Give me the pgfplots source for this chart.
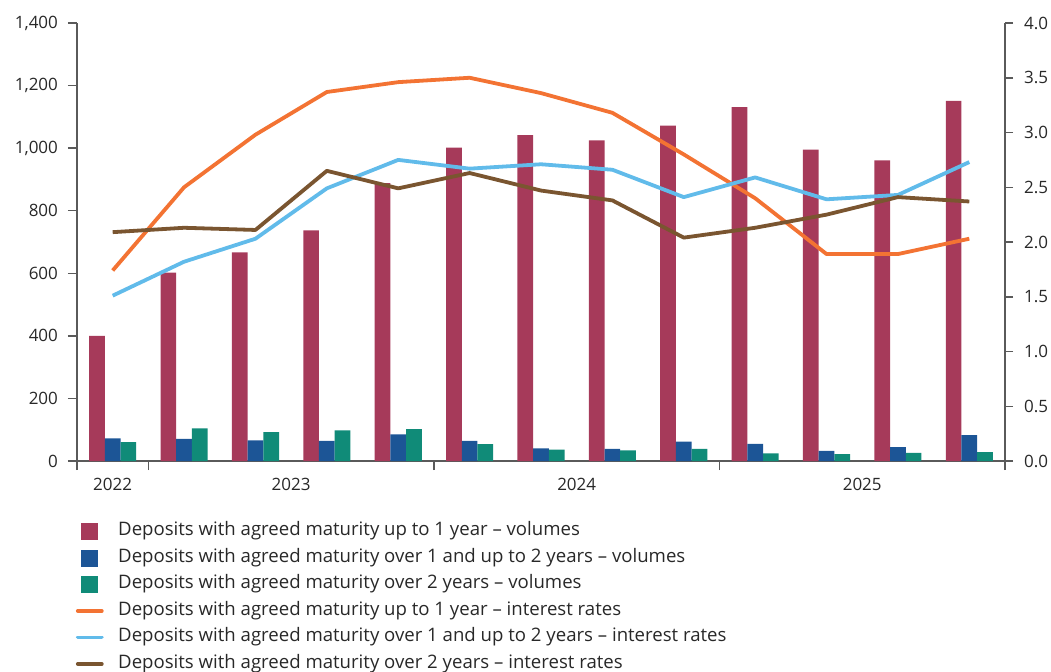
\documentclass[border=0pt]{standalone}
\usepackage{pgfplots}
\pgfplotsset{compat=1.18}
\usepackage{fontspec}
\setmainfont{Open Sans}
\definecolor{cRed}{RGB}{166,58,90}
\definecolor{cBlue}{RGB}{28,85,150}
\definecolor{cGreen}{RGB}{16,139,120}
\definecolor{cOrange}{RGB}{243,115,51}
\definecolor{cLight}{RGB}{97,187,234}
\definecolor{cBrown}{RGB}{122,85,48}
\definecolor{cText}{RGB}{40,40,40}
\definecolor{cAxis}{RGB}{90,90,90}

\pgfplotstableread{
x vol1 vol2 vol3 r1 r2 r3
0 400 72 60 1.74 1.51 2.09
1 602 71 104 2.50 1.82 2.13
2 667 66 92 2.98 2.03 2.11
3 737 64 98 3.37 2.49 2.65
4 888 85 102 3.46 2.75 2.49
5 1002 64 54 3.50 2.67 2.63
6 1042 40 36 3.36 2.71 2.47
7 1025 39 34 3.18 2.66 2.38
8 1072 62 39 2.80 2.41 2.04
9 1131 55 24 2.40 2.59 2.13
10 995 32 22 1.89 2.39 2.25
11 961 44 26 1.89 2.43 2.41
12 1151 83 28 2.03 2.73 2.37
}\datatable

\begin{document}
\begin{tikzpicture}
\path[use as bounding box] (-38.5pt,-105pt) rectangle (487pt,230.5pt);
\pgfplotsset{
  every axis/.append style={
    scale only axis, width=464pt, height=219pt,
    xmin=-0.5, xmax=12.5,
    font=\fontsize{8.5}{10.2}\selectfont,
    tick label style={text=cText, font=\fontsize{8.5}{10.2}\selectfont},
    axis line style={draw=cAxis, line width=0.75pt},
    tick style={draw=cAxis, line width=0.75pt},
    tick align=outside,
    /pgf/number format/assume math mode=true,
  },
}
\begin{axis}[
  ymin=0, ymax=1400,
  axis y line*=left, axis x line*=bottom,
  ybar=0pt, bar width=7.85pt,
  ytick={0,200,400,600,800,1000,1200,1400},
  major tick length=4.5pt,
  yticklabel style={xshift=-1.5pt},
  /pgf/number format/1000 sep={,},
  xtick={-0.5,0.5,4.5,8.5,12.5}, xticklabels={},
  extra x ticks={0,2.5,6.5,10.5},
  extra x tick labels={2022,2023,2024,2025},
  extra x tick style={major tick length=0pt, xticklabel style={yshift=-5pt}},
]
\addplot[draw=none, fill=cRed] table[x=x, y=vol1] {\datatable};
\addplot[draw=none, fill=cBlue] table[x=x, y=vol2] {\datatable};
\addplot[draw=none, fill=cGreen] table[x=x, y=vol3] {\datatable};
\end{axis}
\begin{axis}[
  ymin=0, ymax=4,
  axis y line*=right, axis x line=none,
  ytick={0,0.5,1,1.5,2,2.5,3,3.5,4},
  major tick length=4pt,
  yticklabel style={xshift=2pt, /pgf/number format/fixed, /pgf/number format/fixed zerofill, /pgf/number format/precision=1},
  legend style={at={(rel axis cs:0,0)}, xshift=-0.75pt, yshift=-30.5pt, anchor=north west,
    draw=none, fill=none, inner sep=0pt, row sep=4.25pt, column sep=7.25pt,
    font=\fontsize{9.3}{11}\selectfont, text=cText,
    nodes={inner sep=0pt, text height=6.75pt, text depth=2.25pt}},
  legend cell align=left,
]
\addlegendimage{legend image code/.code={\fill[cRed] (-4pt,-4pt) rectangle (4pt,4pt); \path[draw=none,fill=none] (-6.75pt,0) -- (6.75pt,0);}}
\addlegendentry{Deposits with agreed maturity up to 1 year – volumes}
\addlegendimage{legend image code/.code={\fill[cBlue] (-4pt,-4pt) rectangle (4pt,4pt); \path[draw=none,fill=none] (-6.75pt,0) -- (6.75pt,0);}}
\addlegendentry{Deposits with agreed maturity over 1 and up to 2 years – volumes}
\addlegendimage{legend image code/.code={\fill[cGreen] (-4pt,-4pt) rectangle (4pt,4pt); \path[draw=none,fill=none] (-6.75pt,0) -- (6.75pt,0);}}
\addlegendentry{Deposits with agreed maturity over 2 years – volumes}
\addplot[cOrange, line width=1.9pt, line join=round,
  legend image code/.code={\draw[cOrange, line width=1.9pt, line cap=round] (-6pt,0) -- (6pt,0); \path[draw=none] (-6.75pt,0) -- (6.75pt,0);}]
  table[x=x, y=r1] {\datatable};
\addlegendentry{Deposits with agreed maturity up to 1 year – interest rates}
\addplot[cLight, line width=1.9pt, line join=round,
  legend image code/.code={\draw[cLight, line width=1.9pt, line cap=round] (-6pt,0) -- (6pt,0); \path[draw=none] (-6.75pt,0) -- (6.75pt,0);}]
  table[x=x, y=r2] {\datatable};
\addlegendentry{Deposits with agreed maturity over 1 and up to 2 years – interest rates}
\addplot[cBrown, line width=1.9pt, line join=round,
  legend image code/.code={\draw[cBrown, line width=1.9pt, line cap=round] (-6pt,0) -- (6pt,0); \path[draw=none] (-6.75pt,0) -- (6.75pt,0);}]
  table[x=x, y=r3] {\datatable};
\addlegendentry{Deposits with agreed maturity over 2 years – interest rates}
\end{axis}
\end{tikzpicture}
\end{document}
